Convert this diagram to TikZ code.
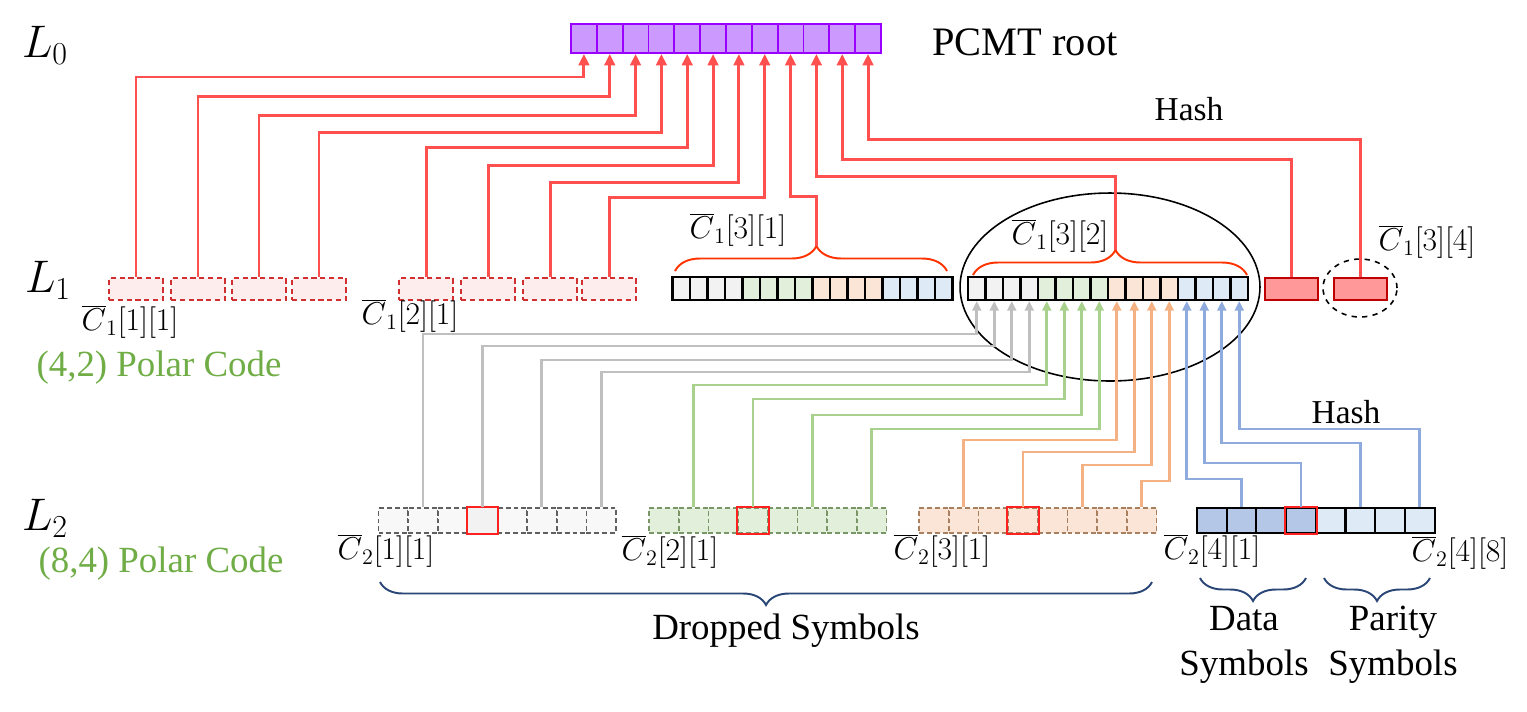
\RequirePackage{fix-cm}
\documentclass[tikz,border=0pt]{standalone}
\usepackage{fontspec}
\setmainfont{Liberation Serif}
\usetikzlibrary{arrows.meta,decorations.pathreplacing,shapes.geometric}

\definecolor{rootfill}{HTML}{CC99FF}
\definecolor{rootdraw}{HTML}{9900FF}
\definecolor{redline}{HTML}{FF5050}
\definecolor{bracered}{HTML}{FF3300}
\definecolor{pinkfill}{HTML}{FDEDED}
\definecolor{pinkdraw}{HTML}{D03030}
\definecolor{redfill}{HTML}{FF9999}
\definecolor{reddraw}{HTML}{C00000}
\definecolor{hotred}{HTML}{FF2020}
\definecolor{cg}{HTML}{F2F2F2}
\definecolor{cn}{HTML}{E2EFDA}
\definecolor{co}{HTML}{FBE5D6}
\definecolor{cb}{HTML}{DEEBF7}
\definecolor{bldark}{HTML}{B4C7E7}
\definecolor{gyfill}{HTML}{F8F8F8}
\definecolor{gydraw}{HTML}{606060}
\definecolor{gndraw}{HTML}{7A9566}
\definecolor{ogdraw}{HTML}{A8805F}
\definecolor{grayln}{HTML}{BFBFBF}
\definecolor{greenln}{HTML}{A9D18E}
\definecolor{orangeln}{HTML}{F4B183}
\definecolor{blueln}{HTML}{8FAADC}
\definecolor{navy}{HTML}{2A4676}
\definecolor{codegreen}{HTML}{70AD47}

\tikzset{
  lvl/.style={font=\fontsize{26}{28}\selectfont},
  lbl/.style={font=\fontsize{21}{25.5}\selectfont},
  mlbl/.style={font=\fontsize{18}{20}\selectfont},
  hashlbl/.style={font=\fontsize{19}{22}\selectfont},
  rootcell/.style={draw=rootdraw, fill=rootfill, line width=1.1pt, inner sep=0pt,
    minimum width=0.517cm, minimum height=0.58cm},
  pinkbox/.style={draw=pinkdraw, fill=pinkfill, line width=0.9pt, dash pattern=on 3pt off 2pt,
    inner sep=0pt, minimum width=1.08cm, minimum height=0.44cm},
  redbox/.style={draw=reddraw, fill=redfill, line width=1.1pt, inner sep=0pt,
    minimum width=1.06cm, minimum height=0.44cm},
  cell/.style={draw=black, line width=1.2pt, inner sep=0pt, minimum width=0.35cm, minimum height=0.46cm},
  lcell/.style={draw=black, line width=1.2pt, inner sep=0pt, minimum width=0.594cm, minimum height=0.5cm},
  dcell/.style={line width=0.9pt, dash pattern=on 2.8pt off 1.7pt, inner sep=0pt,
    minimum width=0.594cm, minimum height=0.5cm},
  hot/.style={draw=hotred, line width=1.1pt},
  ring/.style={ellipse, draw=black, line width=0.9pt, inner sep=0pt},
  redarr/.style={draw=redline, line width=1.7pt, -{Triangle[width=6pt,length=6.5pt]}},
  lowarr/.style={line width=1.6pt, -{Triangle[width=5pt,length=5.4pt]}},
  redbrace/.style={draw=bracered, line width=1.1pt, decorate,
    decoration={brace, amplitude=0.5cm, aspect=0.52}},
  navybrace/.style={draw=navy, line width=1.1pt, decorate,
    decoration={brace, amplitude=0.46cm}}
}

\begin{document}
\begin{tikzpicture}[x=0.02cm, y=-0.02cm]
    \useasboundingbox (0,0) rectangle (1527,711);

    % levels
    \node[lvl] (lz) at (45,45) {$L_0$};
    \node[lvl] (lo) at (48,280) {$L_1$};
    \node[lvl] (lt) at (45,518) {$L_2$};
    \node[lbl, text=codegreen] (pc1) at (159,368) {(4,2) Polar Code};
    \node[lbl, text=codegreen] (pc2) at (161,564) {(8,4) Polar Code};

    % L0
    \foreach \i in {1,...,12}
        \node[rootcell] (r\i) at ({571+25.83*(\i-0.5)},38.5) {};
    \node[font=\fontsize{23}{26}\selectfont, anchor=west] (rootlbl) at (926,42) {PCMT root};

    % L1
    \node[ring, minimum width=6cm, minimum height=3.76cm] (big) at (1110,287) {};
    \node[ring, dashed, minimum width=1.48cm, minimum height=1.16cm] (small) at (1360,288) {};
    \foreach \i/\x in {1/136,2/198,3/259,4/319,5/426,6/488,7/550,8/609}
        \node[pinkbox] (p\i) at (\x,289) {};
    \foreach \c [count=\k from 0] in {cg,cn,co,cb}
        \foreach \j in {1,...,4}{
            \pgfmathtruncatemacro\idx{4*\k+\j}
            \node[cell, fill=\c] (a\idx) at ({672.5+17.5*(\idx-0.5)},288.5) {};
            \node[cell, fill=\c] (b\idx) at ({968+17.5*(\idx-0.5)},288.5) {};
        }
    \node[redbox] (s1) at (1291.5,289) {};
    \node[redbox] (s2) at (1360.5,289) {};
    \draw[redbrace] (675,271) -- (947,271);
    \draw[redbrace] (973,275) -- (1247,275);
    \coordinate (tipA) at (816,246);
    \coordinate (tipB) at (1115,250);

    \node[mlbl] (c11) at (130,322) {$\overline{C}_1[1][1]$};
    \node[mlbl] (c21) at (410,316) {$\overline{C}_1[2][1]$};
    \node[mlbl] (c31) at (738,230) {$\overline{C}_1[3][1]$};
    \node[mlbl] (c32) at (1060,236) {$\overline{C}_1[3][2]$};
    \node[mlbl] (c34) at (1427,242) {$\overline{C}_1[3][4]$};
    \node[hashlbl] (hash1) at (1189,109) {Hash};

    \foreach \i/\y in {1/77,2/96,3/115,4/132,5/147,6/165,7/182,8/197}
        \draw[redarr] (p\i.north) |- (r\i.south |- 0,\y) -- (r\i.south);
    \draw[redarr] (tipA) |- (r9.south |- 0,196) -- (r9.south);
    \draw[redarr] (tipB) |- (r10.south |- 0,176) -- (r10.south);
    \draw[redarr] (s1.north) |- (r11.south |- 0,159) -- (r11.south);
    \draw[redarr] (s2.north) |- (r12.south |- 0,139) -- (r12.south);

    % L2
    \foreach \i in {1,...,8}{
        \node[dcell, draw=gydraw, fill=gyfill] (gy\i) at ({378.5+29.7*(\i-0.5)},520.5) {};
        \node[dcell, draw=gndraw, fill=cn] (gn\i) at ({649+29.7*(\i-0.5)},520.5) {};
        \node[dcell, draw=ogdraw, fill=co] (og\i) at ({919+29.7*(\i-0.5)},520.5) {};
    }
    \foreach \i in {1,...,4}
        \node[lcell, fill=bldark] (bl\i) at ({1197+29.7*(\i-0.5)},520.5) {};
    \foreach \i in {5,...,8}
        \node[lcell, fill=cb] (bl\i) at ({1197+29.7*(\i-0.5)},520.5) {};
    \draw[hot, fill=cg] (gy4.south west) rectangle (gy4.north east);
    \foreach \g in {gn,og,bl}
        \draw[hot] (\g4.south west) rectangle (\g4.north east);

    \node[mlbl] (d11) at (386,551) {$\overline{C}_2[1][1]$};
    \node[mlbl] (d21) at (670,552) {$\overline{C}_2[2][1]$};
    \node[mlbl] (d31) at (942,551) {$\overline{C}_2[3][1]$};
    \node[mlbl] (d41) at (1212,551) {$\overline{C}_2[4][1]$};
    \node[mlbl] (d48) at (1460,553) {$\overline{C}_2[4][8]$};
    \node[hashlbl] (hash2) at (1346,412) {Hash};

    \foreach \src/\dst/\y in {gy2/b1/334,gy4/b2/346,gy6/b3/360,gy8/b4/372}
        \draw[lowarr, draw=grayln] (\src.north) |- (\dst.south |- 0,\y) -- (\dst.south);
    \foreach \src/\dst/\y in {gn2/b5/385,gn4/b6/399,gn6/b7/415,gn8/b8/429}
        \draw[lowarr, draw=greenln] (\src.north) |- (\dst.south |- 0,\y) -- (\dst.south);
    \foreach \src/\dst/\y in {og2/b9/440,og4/b10/452,og6/b11/465,og8/b12/481}
        \draw[lowarr, draw=orangeln] (\src.north) |- (\dst.south |- 0,\y) -- (\dst.south);
    \foreach \src/\dst/\y in {bl2/b13/479,bl4/b14/463,bl6/b15/443,bl8/b16/429}
        \draw[lowarr, draw=blueln] (\src.north) |- (\dst.south |- 0,\y) -- (\dst.south);

    % bottom braces
    \draw[navybrace] (1152,582) -- (380,582);
    \draw[navybrace] (1306,578) -- (1200,578);
    \draw[navybrace] (1430,578) -- (1324,578);
    \node[lbl] (drop) at (786,631) {Dropped Symbols};
    \node[lbl, align=center] (data) at (1244,645) {Data\\Symbols};
    \node[lbl, align=center] (parity) at (1393,645) {Parity\\Symbols};
\end{tikzpicture}
\end{document}
